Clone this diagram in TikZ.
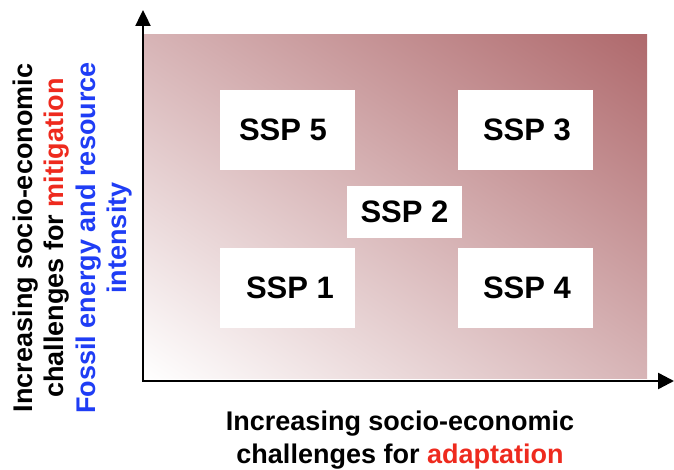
\documentclass[tikz,border=0pt]{standalone}
\usepackage{fontspec}
\setmainfont{Liberation Sans}
\usetikzlibrary{arrows.meta,shadings}
\definecolor{darkrose}{HTML}{AF696C}
\definecolor{midrose}{HTML}{D7B4B6}
\definecolor{hred}{HTML}{EE2A1E}
\definecolor{hblue}{HTML}{1F3DF5}
\begin{document}
\begin{tikzpicture}[x=1pt,y=-1pt,
  sspbox/.style={fill=white, draw=none, minimum width=135pt, minimum height=80pt, inner sep=0pt,
    font=\fontsize{31}{37}\selectfont\bfseries},
  axisline/.style={line width=2.4pt, {Triangle[length=16pt,width=15pt]}-{Triangle[length=16pt,width=16pt]}},
  lbl/.style={font=\fontsize{27}{33}\selectfont\bfseries, align=center, inner sep=0pt}]
\useasboundingbox (0,0) rectangle (674,470);
\shade[lower left=white, upper right=darkrose, upper left=midrose, lower right=midrose]
  (144,35) rectangle (647,378);
\node[sspbox] (s5) at (287.5,130) {SSP 5\hspace*{9pt}};
\node[sspbox] (s3) at (525.5,130) {\hspace*{3pt}SSP 3};
\node[sspbox, minimum width=115pt, minimum height=52pt] (s2) at (404.5,212) {SSP 2};
\node[sspbox] (s1) at (287.5,288) {\hspace*{5pt}SSP 1};
\node[sspbox] (s4) at (525.5,288) {\hspace*{3pt}SSP 4};
\coordinate (o) at (143,381);
\coordinate (ytip) at (143,10);
\coordinate (xtip) at (674,381);
\draw[axisline] (ytip) -- (o) -- (xtip);
\node[lbl, font=\fontsize{27}{31.5}\selectfont\bfseries, rotate=90] (yl) at (72.5,238)
  {Increasing socio-economic\\challenges for \textcolor{hred}{mitigation}\\\textcolor{hblue}{Fossil energy and resource}\\\textcolor{hblue}{intensity}};
\node[lbl] (xl) at (400,440) {Increasing socio-economic\\challenges for \textcolor{hred}{adaptation}};
\end{tikzpicture}
\end{document}
